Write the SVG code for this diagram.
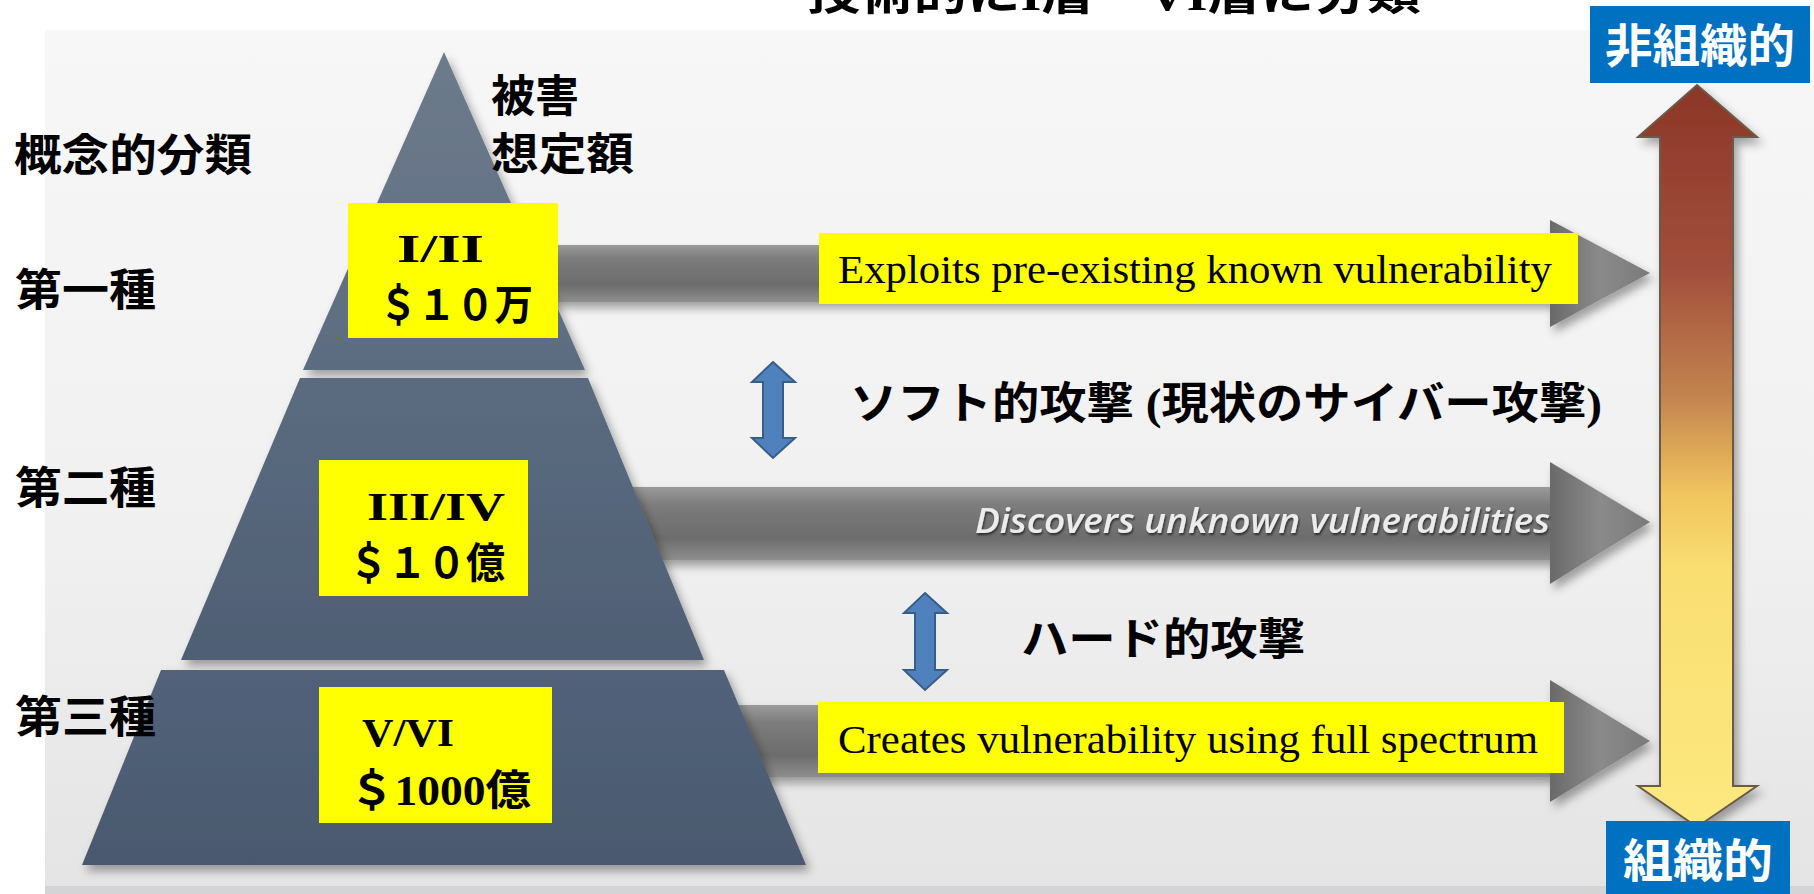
<svg xmlns="http://www.w3.org/2000/svg" width="1814" height="894" viewBox="0 0 1814 894">
<defs>
<linearGradient id="bg" x1="0" y1="0" x2="0" y2="1"><stop offset="0" stop-color="#f7f7f8"/><stop offset="0.6" stop-color="#f0f0f1"/><stop offset="1" stop-color="#e4e4e5"/></linearGradient>
<linearGradient id="shaft" x1="0" y1="0" x2="0" y2="1"><stop offset="0" stop-color="#9a9a9a"/><stop offset="0.25" stop-color="#7c7c7c"/><stop offset="0.7" stop-color="#6c6c6c"/><stop offset="1" stop-color="#8e8e8e"/></linearGradient>
<linearGradient id="head" x1="0" y1="0" x2="1" y2="0"><stop offset="0" stop-color="#6a6a6a"/><stop offset="0.5" stop-color="#8a8a8a"/><stop offset="1" stop-color="#7a7a7a"/></linearGradient>
<linearGradient id="pyrTop" x1="0" y1="0" x2="0" y2="1"><stop offset="0" stop-color="#6d7b8c"/><stop offset="1" stop-color="#5c6c80"/></linearGradient>
<linearGradient id="pyrMid" x1="0" y1="0" x2="0" y2="1"><stop offset="0" stop-color="#5b6b80"/><stop offset="1" stop-color="#4f5f74"/></linearGradient>
<linearGradient id="pyrBot" x1="0" y1="0" x2="0" y2="1"><stop offset="0" stop-color="#52627a"/><stop offset="1" stop-color="#4a596e"/></linearGradient>
<linearGradient id="vgrad" x1="0" y1="85" x2="0" y2="827" gradientUnits="userSpaceOnUse"><stop offset="0" stop-color="#8b3628"/><stop offset="0.25" stop-color="#a24f3c"/><stop offset="0.42" stop-color="#c3844f"/><stop offset="0.55" stop-color="#f0c45e"/><stop offset="0.65" stop-color="#f9de72"/><stop offset="1" stop-color="#fce97f"/></linearGradient>
<filter id="shadow" x="-10%" y="-10%" width="130%" height="130%"><feDropShadow dx="4" dy="6" stdDeviation="5" flood-color="#000" flood-opacity="0.35"/></filter>
<filter id="tshadow" x="-5%" y="-20%" width="110%" height="150%"><feDropShadow dx="1" dy="2" stdDeviation="1" flood-color="#000" flood-opacity="0.6"/></filter>
<style>
.jp{font-family:"Liberation Serif","Noto Sans CJK JP",serif;font-weight:bold;fill:#000;}
.lbl{font-family:"Liberation Serif","Noto Sans CJK JP",serif;font-weight:bold;fill:#000;font-size:44px;}
.box{fill:#ffff00;}
.en{font-family:"Liberation Serif",serif;font-size:40px;fill:#000;}
.blue{fill:#4f81bd;stroke:#385d8a;stroke-width:2;}
.tag{fill:#0070c0;}
.tagt{font-family:"Noto Sans CJK JP",sans-serif;font-weight:bold;font-size:46px;fill:#fff;}
</style>
</defs>
<rect x="0" y="0" width="1814" height="894" fill="#ffffff"/>
<rect x="45" y="30" width="1769" height="864" fill="url(#bg)"/>
<rect x="45" y="886" width="1769" height="8" fill="#d4d4d6"/>
<text class="jp" x="807" y="10" font-size="44" textLength="614" lengthAdjust="spacingAndGlyphs">技術的にI層～VI層に分類</text>

<g id="connectors">
<g id="arrow1" filter="url(#shadow)">
<rect x="470" y="245" width="1082" height="57" fill="url(#shaft)"/>
<polygon points="1550,220 1650,273 1550,327" fill="url(#head)"/>
</g>
<g id="arrow2" filter="url(#shadow)">
<rect x="470" y="487" width="1082" height="73" fill="url(#shaft)"/>
<polygon points="1550,462 1650,522 1550,584" fill="url(#head)"/>
</g>
<g id="arrow3" filter="url(#shadow)">
<rect x="470" y="705" width="1082" height="72" fill="url(#shaft)"/>
<polygon points="1550,680 1650,741 1550,802" fill="url(#head)"/>
</g>
<g id="soft-arrow"><polygon class="blue" points="773,362 795,382 783,382 783,438 795,438 773,458 752,438 763,438 763,382 752,382"/></g>
<g id="hard-arrow"><polygon class="blue" points="925,593 947,613 935,613 935,670 947,670 925,690 904,670 915,670 915,613 904,613"/></g>
</g>

<g id="pyramid" filter="url(#shadow)">
<polygon points="444,52 585,370 303,370" fill="url(#pyrTop)"/>
<polygon points="300,378 588,378 704,660 181,660" fill="url(#pyrMid)"/>
<polygon points="161,670 724,670 806,865 82,865" fill="url(#pyrBot)"/>
</g>

<g id="node-tier1">
<rect class="box" x="348" y="203" width="210" height="135"/>
<text class="jp" x="397" y="262" font-size="40" textLength="87" lengthAdjust="spacingAndGlyphs">I/II</text>
<text class="jp" x="379" y="320" font-size="42" textLength="154" lengthAdjust="spacingAndGlyphs">＄１０万</text>
</g>
<g id="node-tier2">
<rect class="box" x="319" y="460" width="209" height="136"/>
<text class="jp" x="367" y="520" font-size="40" textLength="138" lengthAdjust="spacingAndGlyphs">III/IV</text>
<text class="jp" x="349" y="578" font-size="42" textLength="156" lengthAdjust="spacingAndGlyphs">＄１０億</text>
</g>
<g id="node-tier3">
<rect class="box" x="319" y="687" width="233" height="136"/>
<text class="jp" x="362" y="746" font-size="40" textLength="92" lengthAdjust="spacingAndGlyphs">V/VI</text>
<text class="jp" x="349" y="805" font-size="42" textLength="182" lengthAdjust="spacingAndGlyphs">＄1000億</text>
</g>

<g id="left-labels">
<text class="lbl" x="14" y="171" textLength="238" lengthAdjust="spacingAndGlyphs">概念的分類</text>
<text class="lbl" x="491" y="112">被害</text>
<text class="lbl" x="491" y="170" textLength="143" lengthAdjust="spacingAndGlyphs">想定額</text>
<text class="lbl" x="15" y="306" textLength="141" lengthAdjust="spacingAndGlyphs">第一種</text>
<text class="lbl" x="15" y="504" textLength="141" lengthAdjust="spacingAndGlyphs">第二種</text>
<text class="lbl" x="15" y="733" textLength="141" lengthAdjust="spacingAndGlyphs">第三種</text>
</g>

<g id="label-exploits">
<rect class="box" x="819" y="233" width="759" height="71"/>
<text class="en" x="838" y="283" textLength="714" lengthAdjust="spacingAndGlyphs">Exploits pre-existing known vulnerability</text>
</g>
<g id="label-discovers">
<text x="975" y="533" font-family="'Open Sans',sans-serif" font-style="italic" font-weight="600" font-size="34" fill="#ececec" filter="url(#tshadow)" textLength="575" lengthAdjust="spacingAndGlyphs">Discovers unknown vulnerabilities</text>
</g>
<g id="label-creates">
<rect class="box" x="818" y="702" width="746" height="71"/>
<text class="en" x="838" y="753" textLength="700" lengthAdjust="spacingAndGlyphs">Creates vulnerability using full spectrum</text>
</g>
<g id="label-soft"><text class="lbl" x="850" y="419" textLength="752" lengthAdjust="spacingAndGlyphs">ソフト的攻撃 (現状のサイバー攻撃)</text></g>
<g id="label-hard"><text class="lbl" x="1021" y="655" font-size="46" textLength="284" lengthAdjust="spacingAndGlyphs">ハード的攻撃</text></g>

<g id="scale-arrow" filter="url(#shadow)">
<polygon points="1697,85 1757,137 1733,137 1733,786 1757,786 1697,827 1638,786 1660,786 1660,137 1638,137" fill="url(#vgrad)" stroke="#6b5a48" stroke-width="2"/>
</g>
<g id="tag-unorganized">
<rect class="tag" x="1590" y="6" width="220" height="77"/>
<text class="tagt" x="1700" y="62" text-anchor="middle" textLength="190" lengthAdjust="spacingAndGlyphs">非組織的</text>
</g>
<g id="tag-organized">
<rect class="tag" x="1606" y="821" width="184" height="73"/>
<text class="tagt" x="1698" y="877" text-anchor="middle" textLength="150" lengthAdjust="spacingAndGlyphs">組織的</text>
</g>
</svg>
